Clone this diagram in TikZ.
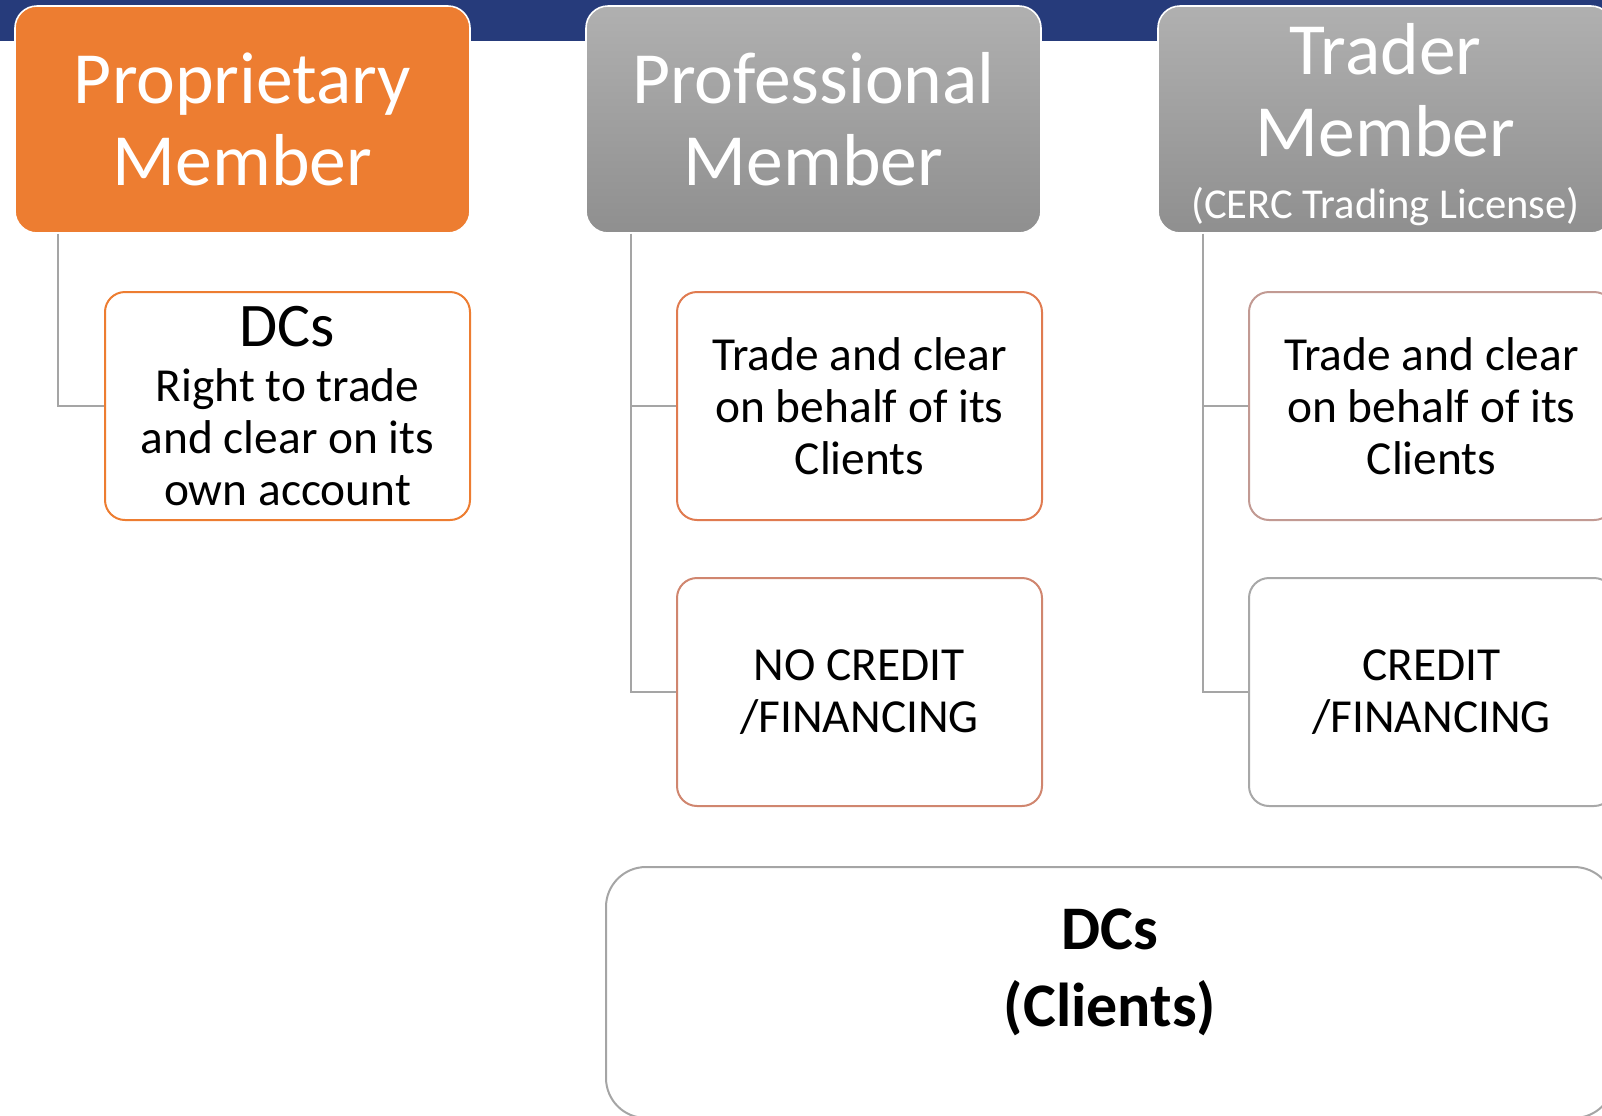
\documentclass[tikz,border=0pt]{standalone}
\usepackage{fontspec}
\setmainfont{Carlito}
\usetikzlibrary{positioning}

\definecolor{barblue}{HTML}{263B7B}
\definecolor{memorange}{HTML}{ED7D31}
\definecolor{greytop}{HTML}{B0B0B0}
\definecolor{greybot}{HTML}{8F8F8F}
\definecolor{linkgrey}{HTML}{A5A5A5}
\definecolor{edgeA}{HTML}{ED7D31}
\definecolor{edgeB}{HTML}{E07B50}
\definecolor{edgeC}{HTML}{D0866F}
\definecolor{edgeD}{HTML}{C29A93}
\definecolor{edgeE}{HTML}{A8A8A8}

\tikzset{
  member/.style={rounded corners=11pt, draw=white, line width=0.8pt,
    minimum width=227.5pt, minimum height=113.5pt, inner sep=0pt,
    align=center, text=white, font=\fontsize{36.8}{41}\selectfont},
  graymember/.style={member, top color=greytop, bottom color=greybot},
  duty/.style={rounded corners=10pt, fill=white, line width=1pt,
    minimum width=182.5pt, minimum height=114pt, inner sep=0pt,
    align=center, font=\fontsize{23.7}{26}\selectfont},
  link/.style={draw=linkgrey, line width=1pt},
}

\begin{document}
\begin{tikzpicture}[x=0.5pt,y=-0.5pt]
    \useasboundingbox (0,0) rectangle (1602,1115);
    \fill[barblue] (0,0) rectangle (1602,41);

    % member types
    \node[member, fill=memorange] (prop) at (242.5,119.5) {Proprietary\\Member};
    \node[graymember] (pro) at (813.5,119.5) {Professional\\Member};
    \node[graymember] (trd) at (1385.5,119.5)
        {\rule{0pt}{30.5pt}Trader\\Member\\[-10pt]{\fontsize{21.3}{22}\selectfont (CERC Trading License)}};

    % what each member may do
    \node[duty, draw=edgeA] (own) at (287.5,406)
        {{\fontsize{31}{31}\selectfont DCs}\\[1.5pt]Right to trade\\and clear on its\\own account};
    \node[duty, draw=edgeB] (proclear) at (859.5,406) {Trade and clear\\on behalf of its\\Clients};
    \node[duty, draw=edgeC] (pronocredit) at (859.5,692) {NO CREDIT\\/FINANCING};
    \node[duty, draw=edgeD] (trdclear) at (1431.5,406) {Trade and clear\\on behalf of its\\Clients};
    \node[duty, draw=edgeE] (trdcredit) at (1431.5,692) {CREDIT\\/FINANCING};

    \draw[link] ([xshift=22pt]prop.south west) |- (own.west);
    \foreach \m/\a/\b in {pro/proclear/pronocredit, trd/trdclear/trdcredit}
    {
        \draw[link] ([xshift=23pt]\m.south west) |- (\a.west);
        \draw[link] ([xshift=23pt]\m.south west) |- (\b.west);
    }

    % clients
    \node[draw=linkgrey, line width=1pt, rounded corners=20pt,
        minimum width=504pt, minimum height=125.5pt] (clients) at (1110,992.5) {};
    \node[font=\fontsize{31}{38.5}\selectfont\bfseries, align=center] (clientstext) at (1110,972) {DCs\\(Clients)};
\end{tikzpicture}
\end{document}
